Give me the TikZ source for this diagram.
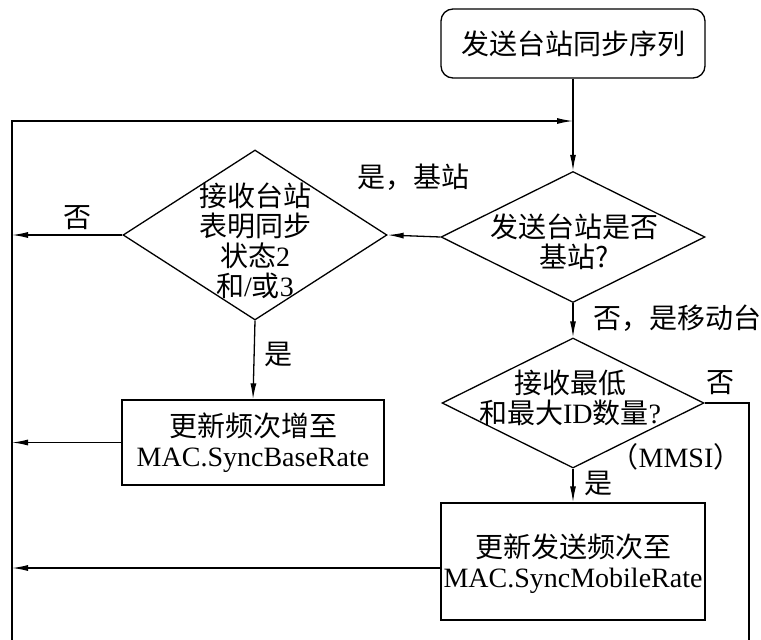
\documentclass[tikz,border=0pt]{standalone}
\usepackage{fontspec}
\setmainfont{Liberation Serif}
\newfontfamily\cjk{Noto Sans CJK SC}
\usetikzlibrary{arrows.meta,shapes.geometric}
\begin{document}
\begin{tikzpicture}[x=1pt,y=-1pt,
  ln/.style={line width=1.3pt},
  arr/.style={ln,-{Latex[length=16pt,width=6pt]}},
  txt/.style={font=\fontsize{28}{30}\selectfont, inner sep=0pt, align=center},
  boxnode/.style={draw, ln, rectangle, inner sep=0pt},
  dianode/.style={draw, ln, diamond, inner sep=0pt}]
\useasboundingbox (0,0) rectangle (761,640);
% nodes
\node[boxnode, rounded corners=12pt, minimum width=264pt, minimum height=69pt] (start) at (573,43.5) {};
\node[txt] (startt) at (start) {\cjk 发送台站同步序列};
\node[dianode, minimum width=264pt, minimum height=131pt] (d1) at (573,237) {};
\node[txt] (d1t) at (574,242) {\cjk 发送台站是否\\\cjk 基站?};
\node[dianode, minimum width=264pt, minimum height=170pt] (d2) at (255,235) {};
\node[txt] (d2t) at (255,241) {\cjk 接收台站\\\cjk 表明同步\\{\cjk 状态}2\\{\cjk 和}/{\cjk 或}3};
\node[dianode, minimum width=262pt, minimum height=130pt] (d3) at (573,403) {};
\node[txt] (d3t) at (570,398) {\cjk 接收最低\\{\cjk 和最大}ID{\cjk 数量}?};
\node[boxnode, minimum width=262pt, minimum height=85pt] (b2) at (253,442.5) {};
\node[txt] (b2t) at (b2) {\cjk 更新频次增至\\MAC.SyncBaseRate};
\node[boxnode, minimum width=264pt, minimum height=117pt] (b3) at (573,561.5) {};
\node[txt] (b3t) at (573,564) {\cjk 更新发送频次至\\MAC.SyncMobileRate};
% helper coordinates
\coordinate (lb) at (12,640);
\coordinate (lt) at (12,121);
\coordinate (j) at (573,121);
\coordinate (rb) at (749,640);
\coordinate (b3w) at ([yshift=-6.5pt]b3.west);
% connectors
\draw[arr] (start.south) -- (d1.north);
\draw[arr] (lb) -- (lt) -- (j);
\draw[arr] (d1.west) -- (d2.east);
\draw[arr] (d2.west) -- (d2.west -| lt);
\draw[arr] (d2.south) -- (b2.north);
\draw[arr] (b2.west) -- (b2.west -| lt);
\draw[arr] (d1.south) -- (d3.north);
\draw[arr] (d3.south) -- (b3.north);
\draw[arr] (b3w) -- (b3w -| lt);
\draw[ln] (d3.east) -| (rb);
% labels
\node[txt] (l1) at (413,177) {\cjk 是，基站};
\node[txt] (l2) at (77,218) {\cjk 否};
\node[txt] (l3) at (677,318) {\cjk 否，是移动台};
\node[txt] (l4) at (278,354) {\cjk 是};
\node[txt] (l5) at (720,383) {\cjk 否};
\node[txt] (l6) at (676,457) {{\cjk （}MMSI{\cjk ）}};
\node[txt] (l7) at (598,483) {\cjk 是};
\end{tikzpicture}
\end{document}
